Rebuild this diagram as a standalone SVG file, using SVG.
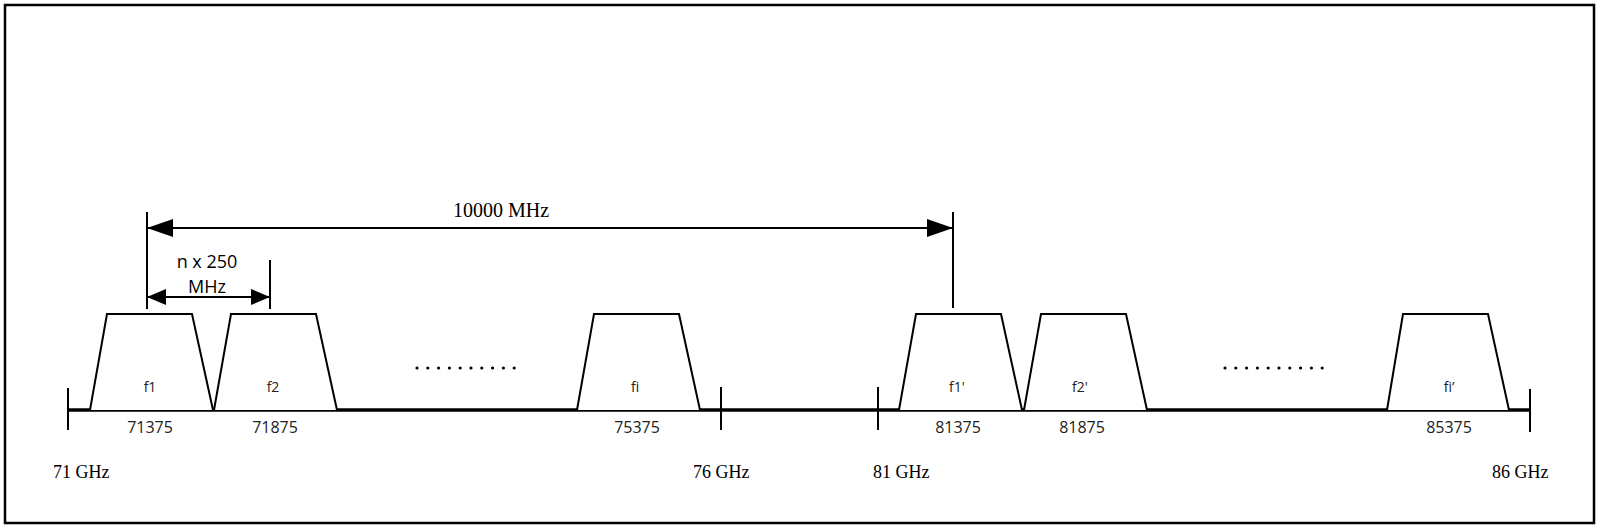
<svg xmlns="http://www.w3.org/2000/svg" width="1600" height="529" viewBox="0 0 1600 529">
<style>
.ln{stroke:#000;stroke-width:2;fill:none}
.band{stroke:#000;stroke-width:2;fill:#fff;stroke-linejoin:miter}
.axis{stroke:#000;stroke-width:3.5;fill:none}
.tick{stroke:#000;stroke-width:2}
.lbl{font-family:"Open Sans","Liberation Sans",sans-serif;font-size:14px;fill:#222;text-anchor:middle}
.num{font-family:"Open Sans","Liberation Sans",sans-serif;font-size:16px;fill:#222;text-anchor:middle}
.ghz{font-family:"Liberation Serif","Times New Roman",serif;font-size:18px;fill:#000}
.dim{font-family:"Liberation Serif","Times New Roman",serif;font-size:20px;fill:#000;text-anchor:middle}
.sans{font-family:"Open Sans","Liberation Sans",sans-serif;font-size:18px;fill:#000;text-anchor:middle}
.dots{stroke:#000;stroke-width:3.2;stroke-linecap:round;stroke-dasharray:0 10.8;fill:none}
</style>
<defs>
<marker id="ah" markerWidth="26" markerHeight="18" refX="26" refY="9" orient="auto-start-reverse" markerUnits="userSpaceOnUse">
<path d="M0,0 L26,9 L0,18 Z" fill="#000"/>
</marker>
<marker id="ahs" markerWidth="19" markerHeight="16" refX="19" refY="8" orient="auto-start-reverse" markerUnits="userSpaceOnUse">
<path d="M0,0 L19,8 L0,16 Z" fill="#000"/>
</marker>
</defs>
<rect x="0" y="0" width="1600" height="529" fill="#fff"/>
<rect x="5" y="5" width="1589" height="518" fill="none" stroke="#000" stroke-width="2.5"/>

<g id="connectors">
<line class="axis" x1="68" y1="410" x2="1530" y2="410"/>
<line class="tick" x1="68" y1="388" x2="68" y2="430"/>
<line class="tick" x1="721" y1="387" x2="721" y2="430"/>
<line class="tick" x1="878" y1="387" x2="878" y2="430"/>
<line class="tick" x1="1530" y1="389" x2="1530" y2="432"/>
<line class="ln" x1="147" y1="212" x2="147" y2="309"/>
<line class="ln" x1="953" y1="212" x2="953" y2="308"/>
<line class="ln" x1="270" y1="260" x2="270" y2="309"/>
<line class="ln" x1="147" y1="228" x2="953" y2="228" marker-start="url(#ah)" marker-end="url(#ah)"/>
<line class="ln" x1="147" y1="297" x2="270" y2="297" marker-start="url(#ahs)" marker-end="url(#ahs)"/>
<line class="dots" x1="417" y1="368" x2="515" y2="368"/>
<line class="dots" x1="1225" y1="368" x2="1323" y2="368"/>
</g>

<g id="f1">
<path class="band" d="M90,410 L107,314 L192,314 L213,410"/>
<text class="lbl" x="150" y="392">f1</text>
<text class="num" x="150" y="433">71375</text>
</g>
<g id="f2">
<path class="band" d="M214,410 L231,314 L316,314 L337,410"/>
<text class="lbl" x="273" y="392">f2</text>
<text class="num" x="275" y="433">71875</text>
</g>
<g id="fi">
<path class="band" d="M577,410 L594,314 L679,314 L700,410"/>
<text class="lbl" x="635" y="392">fi</text>
<text class="num" x="637" y="433">75375</text>
</g>
<g id="f1p">
<path class="band" d="M899,410 L916,314 L1001,314 L1022,410"/>
<text class="lbl" x="957" y="392">f1'</text>
<text class="num" x="958" y="433">81375</text>
</g>
<g id="f2p">
<path class="band" d="M1024,410 L1041,314 L1126,314 L1147,410"/>
<text class="lbl" x="1080" y="392">f2'</text>
<text class="num" x="1082" y="433">81875</text>
</g>
<g id="fip">
<path class="band" d="M1387,410 L1403,314 L1488,314 L1509,410"/>
<text class="lbl" x="1449" y="392">fi’</text>
<text class="num" x="1449" y="433">85375</text>
</g>

<g id="labels">
<text class="dim" x="501" y="217">10000 MHz</text>
<text class="sans" x="207" y="268">n x 250</text>
<text class="sans" x="207" y="293">MHz</text>
<text class="ghz" x="53" y="478">71 GHz</text>
<text class="ghz" x="693" y="478">76 GHz</text>
<text class="ghz" x="873" y="478">81 GHz</text>
<text class="ghz" x="1492" y="478">86 GHz</text>
</g>
</svg>
